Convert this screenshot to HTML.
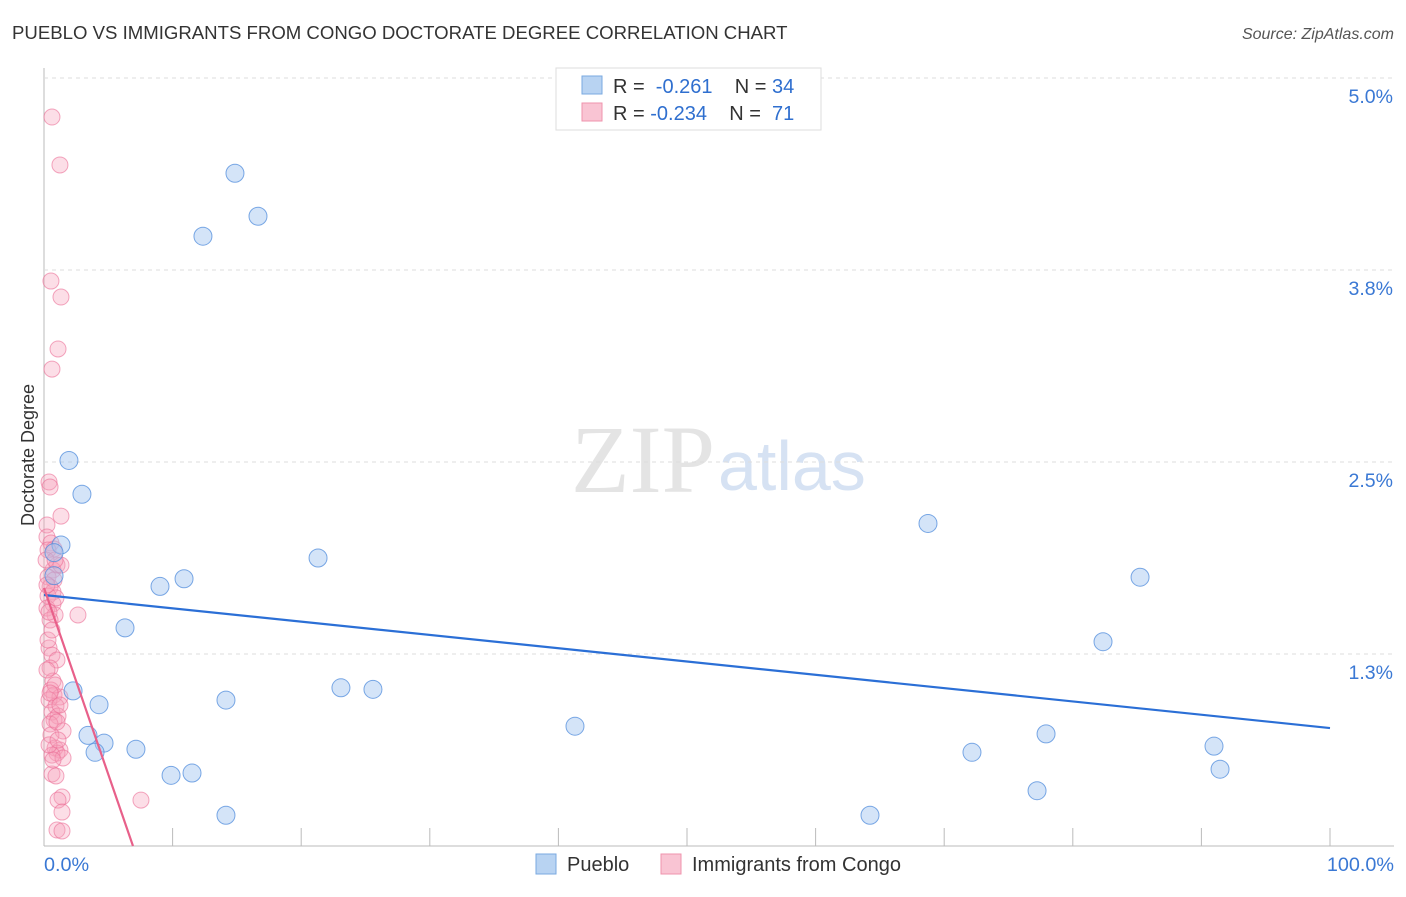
<!DOCTYPE html>
<html><head><meta charset="utf-8"><style>
body{margin:0;background:#fff;font-family:"Liberation Sans",sans-serif;}
#c{position:relative;width:1406px;height:892px;}
</style></head><body>
<div id="c">
<svg id="s" width="1406" height="892" xmlns="http://www.w3.org/2000/svg">
<text x="12" y="39" font-size="18.6" fill="#333">PUEBLO VS IMMIGRANTS FROM CONGO DOCTORATE DEGREE CORRELATION CHART</text>
<text x="1394" y="39" font-size="16" fill="#555" text-anchor="end" font-style="italic">Source: ZipAtlas.com</text>
<text x="715" y="492" font-size="96" fill="#e4e4e4" text-anchor="end" font-family="Liberation Serif,serif">ZIP</text>
<text x="718" y="490" font-size="70" fill="#d6e2f3">atlas</text>
<text transform="translate(34,455) rotate(-90)" font-size="18" fill="#333" text-anchor="middle">Doctorate Degree</text>
<g id="grid"></g><g id="pts"></g><g id="lines"></g>
<g>
<rect x="556" y="68" width="265" height="62" fill="#fff" stroke="#ddd"/>
<rect x="582" y="76" width="20" height="18" fill="#b8d3f2" stroke="#7aa9e0"/>
<rect x="582" y="103" width="20" height="18" fill="#f9c4d3" stroke="#ef93ad"/>
<text x="613" y="93" font-size="20" fill="#333">R = <tspan fill="#2f6fcf">&#160;-0.261</tspan>&#160;&#160;&#160;&#160;N = <tspan fill="#2f6fcf">34</tspan></text>
<text x="613" y="120" font-size="20" fill="#333">R = <tspan fill="#2f6fcf">-0.234</tspan>&#160;&#160;&#160;&#160;N = <tspan fill="#2f6fcf">&#160;71</tspan></text>
</g>
<g>
<rect x="536" y="854" width="20" height="20" fill="#b8d3f2" stroke="#7aa9e0"/>
<text x="567" y="871" font-size="20" fill="#333">Pueblo</text>
<rect x="661" y="854" width="20" height="20" fill="#f9c4d3" stroke="#ef93ad"/>
<text x="692" y="871" font-size="20" fill="#333">Immigrants from Congo</text>
</g>
<text x="44" y="871" font-size="19.8" fill="#3a78d4">0.0%</text>
<text x="1394" y="871" font-size="19.8" fill="#3a78d4" text-anchor="end">100.0%</text>
</svg></div>
<script>
const yTicks=[5.0,3.75,2.5,1.25];
const yTickLabels=["5.0%","3.8%","2.5%","1.3%"];
const blueX=[14.85,16.64,12.36,1.94,2.95,1.32,0.78,0.78,21.31,10.89,9.02,6.30,68.74,85.23,82.35,2.26,4.28,14.15,23.09,25.58,41.29,3.42,4.67,3.97,7.15,11.51,9.88,72.16,77.92,90.98,91.45,77.22,14.15,64.23];
const blueY=[4.38,4.10,3.97,2.51,2.29,1.96,1.91,1.76,1.875,1.74,1.69,1.42,2.10,1.75,1.33,1.01,0.92,0.95,1.03,1.02,0.78,0.72,0.67,0.61,0.63,0.475,0.46,0.61,0.73,0.65,0.50,0.36,0.20,0.20];
const pinkPx=[[52,117],[60,165],[51,281],[61,297],[58,349],[52,369],[49,482],[50,487],[61,516],[47,525],[47,537],[51,543],[54,549],[57,565],[53,570],[48,577],[54,580],[50,587],[53,592],[48,596],[53,604],[47,608],[55,615],[78,615],[49,648],[52,655],[57,660],[50,668],[53,681],[51,690],[54,695],[60,697],[49,700],[56,706],[52,712],[58,716],[54,720],[50,724],[63,731],[51,735],[55,748],[60,750],[57,753],[52,755],[63,758],[52,774],[56,776],[62,797],[58,800],[141,800],[62,812],[57,830],[62,831],[48,550],[46,560],[50,620],[48,640],[55,685],[60,705],[49,745],[53,760],[58,740],[47,670],[52,630],[56,598],[49,612],[47,585],[61,565],[55,560],[57,722],[50,693]];
const pinkX=pinkPx.map(p=>+((p[0]-44)/12.86).toFixed(2));
const pinkY=pinkPx.map(p=>+((846-p[1])/153.6).toFixed(3));
const blueTrend=[1.634,0.768];
const pinkTrend=[1.68,6.92];
const X=v=>44+v*12.86, Y=v=>846-v*153.6;
const NS="http://www.w3.org/2000/svg";
function mk(t,a,p){const e=document.createElementNS(NS,t);for(const k in a)e.setAttribute(k,a[k]);p.appendChild(e);return e;}
const g=document.getElementById('grid');
mk('line',{x1:44,y1:68,x2:44,y2:846,stroke:'#bbb'},g);
mk('line',{x1:44,y1:846,x2:1394,y2:846,stroke:'#bbb'},g);
for(let i=1;i<=10;i++){const l=mk('line',{x1:44+i*128.6,y1:828,x2:44+i*128.6,y2:846,stroke:'#bbb'},g);

}
yTicks.forEach((t,i)=>{const y=Y(t);
const l=mk('line',{x1:44,y1:y,x2:1394,y2:y,stroke:'#ddd','stroke-dasharray':'4,4'},g);


const tx=mk('text',{x:1393,y:y+25,'font-size':19.5,fill:'#3a78d4','text-anchor':'end'},g);tx.textContent=yTickLabels[i];

});
const P=document.getElementById('pts');
pinkX.forEach((x,i)=>{const c=mk('circle',{cx:X(x),cy:Y(pinkY[i]),r:8,fill:'rgba(245,160,185,0.35)',stroke:'rgba(235,110,150,0.6)','stroke-width':1},P);

});
blueX.forEach((x,i)=>{const c=mk('circle',{cx:X(x),cy:Y(blueY[i]),r:9,fill:'rgba(160,195,240,0.45)',stroke:'rgba(80,140,220,0.75)','stroke-width':1},P);

});
const L=document.getElementById('lines');
const bl=mk('line',{x1:X(0),y1:Y(blueTrend[0]),x2:X(100),y2:Y(blueTrend[1]),stroke:'#2b6fd6','stroke-width':2.2},L);


const pl=mk('line',{x1:X(0),y1:Y(pinkTrend[0]),x2:X(pinkTrend[1]),y2:Y(0),stroke:'#e8608a','stroke-width':2.2},L);


</script>
</body></html>
